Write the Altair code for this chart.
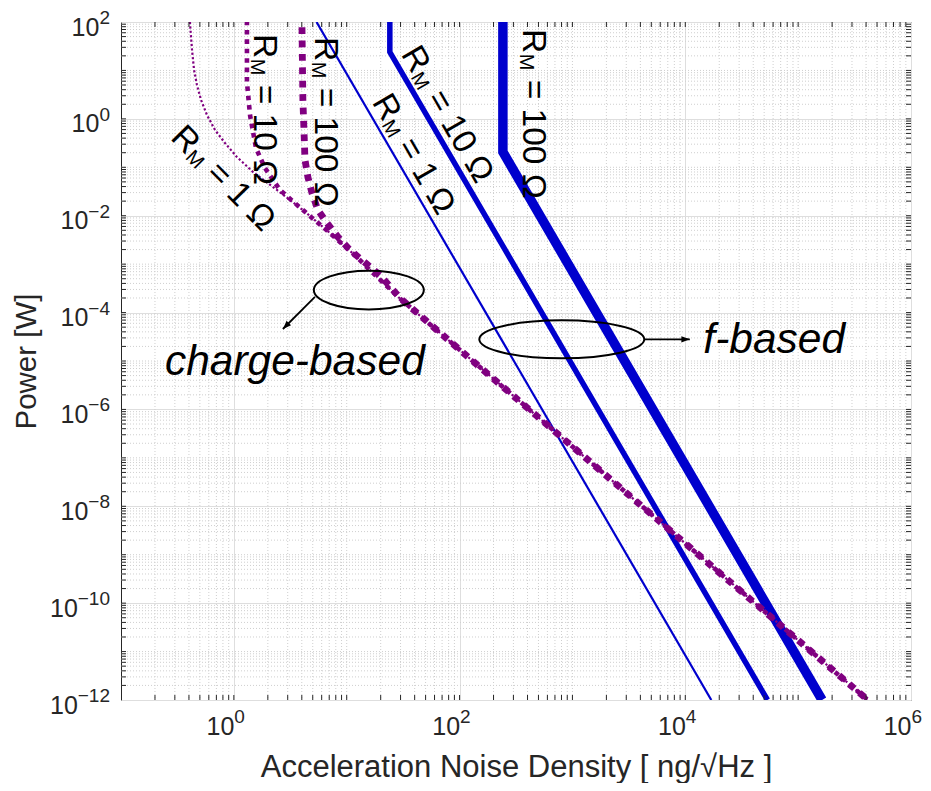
import altair as alt
import pandas as pd

FONT = "Liberation Sans"
INK = "#262626"
BLUE = "#0000CD"
PURPLE = "#800080"
W, H = 790, 678

# ---------------- data ----------------
# f-based (blue) : acceleration noise density [ng/sqrt(Hz)] vs power [W]
f1_a = [5.4, 17000]
f1_p = [100, 1e-12]
f10_a = [24.1, 24.1, 53500]
f10_p = [1000, 24, 1e-12]
f100_a = [242, 242, 163000]
f100_p = [1000, 0.207, 1e-12]

# charge-based (purple)
c1_a = [0.405, 0.408, 0.426, 0.444, 0.471, 0.512, 0.578, 0.681, 0.834, 1.064, 1.476,
        2.41, 4.09, 7.10, 12.3, 16.0, 30, 100, 1000, 1e4, 1e5, 4.14e5]
c1_p = [1000, 100, 26.4, 10.2, 5.0, 2.45, 1.20, 0.589, 0.318, 0.163, 0.080,
        0.034, 0.0131, 0.0044, 0.0014, 7.6e-4, 1.9e-4, 1.71e-5, 1.71e-7, 1.71e-9,
        1.71e-11, 1e-12]
c10_a = [1.306, 1.306, 1.39, 1.57, 1.885, 2.56, 4.09, 7.10, 12.3, 16.0, 30, 100, 1000,
         1e4, 1e5, 4.14e5]
c10_p = [1000, 5.77, 1.20, 0.25, 0.0966, 0.034, 0.0131, 0.0044, 0.0014, 7.6e-4, 1.9e-4,
         1.71e-5, 1.71e-7, 1.71e-9, 1.71e-11, 1e-12]
c100_a = [4.01, 4.01, 4.09, 4.27, 4.53, 4.92, 5.56, 6.68, 8.36, 10.7, 13.6, 19.7, 30,
          100, 1000, 1e4, 1e5, 4.14e5]
c100_p = [1000, 100, 2.45, 0.142, 0.063, 0.0294, 0.0131, 0.00708, 0.00364, 0.00196,
          0.00122, 5.97e-4, 1.95e-4, 1.71e-5, 1.71e-7, 1.71e-9, 1.71e-11, 1e-12]

# label anchors (start of "R_M = ..." text)
lab_a = [0.320, 1.923, 6.68, 464, 37.1, 20.5]
lab_p = [0.589, 56.5, 49.0, 71.7, 29.0, 2.97]
lab_ang = [45.5, 90, 90, 90, 60, 60]
lab_rest = ["= 1 Ω", "= 10 Ω", "= 100 Ω", "= 100 Ω", "= 10 Ω", "= 1 Ω"]

# group annotations
ell_a = [15.7, 805]
ell_p = [2.92e-4, 2.8e-5]
arrow_a0 = [5.23, 4375]
arrow_p0 = [2.1e-4, 2.8e-5]
arrow_a1 = [2.72, 10965]
arrow_p1 = [4.58e-5, 2.8e-5]
arrow_ang = [225, 90]
grp_text = ["charge-based", "f-based"]
grp_a = [3.47, 6.14e4]
grp_p = [5.14e-6, 1.46e-5]

# axes (tick labels are 10^exp)
x_major = [1, 100, 1e4, 1e6]
x_exp = ["0", "2", "4", "6"]
y_major = [1e-12, 1e-10, 1e-8, 1e-6, 1e-4, 1e-2, 1, 100]
y_exp = ["−12", "−10", "−8", "−6", "−4", "−2", "0", "2"]
x_title = "Acceleration Noise Density [ ng/√Hz ]"
y_title = "Power [W]"

x_minor = [k * 10.0 ** n for n in range(-1, 6) for k in range(1, 10)
           if not (k == 1 and n in (0, 2, 4)) and 0.1 < k * 10.0 ** n < 1e6]
y_minor = [k * 10.0 ** n for n in range(-12, 2) for k in range(1, 10)
           if not (k == 1 and n % 2 == 0) and 1e-12 < k * 10.0 ** n < 1e2]
x_ticks = [v for v in x_major if v < 1e6] + x_minor
y_ticks = [v for v in y_major if 1e-12 < v < 100] + y_minor

# ---------------- chart ----------------
XS = alt.Scale(type="log", domain=[0.1, 1e6])
YS = alt.Scale(type="log", domain=[1e-12, 1e2])


def X(field="a"):
    return alt.X(f"{field}:Q", scale=XS)


def Y(field="p"):
    return alt.Y(f"{field}:Q", scale=YS)


def series(a, p):
    return pd.DataFrame({"a": a, "p": p, "i": list(range(len(a)))})


TFS = 31
axes_df = pd.DataFrame({"a": [0.1, 1e6], "p": [1e-12, 1e2]})
axes_layer = alt.Chart(axes_df).mark_point(opacity=0).encode(
    x=alt.X("a:Q", scale=XS, axis=alt.Axis(
        values=x_major, labels=False, title=x_title, titleFontSize=TFS,
        titleX=W / 2, titleY=76, titleAlign="center", titleBaseline="alphabetic")),
    y=alt.Y("p:Q", scale=YS, axis=alt.Axis(
        values=y_major, labels=False, title=y_title, titleFontSize=29.5,
        titleX=-86, titleY=H / 2, titleAlign="center", titleBaseline="alphabetic")),
)

minor_x = alt.Chart(pd.DataFrame({"a": x_minor})).mark_rule(
    color="#cfcfcf", strokeWidth=1, strokeDash=[1, 2]).encode(x=X())
minor_y = alt.Chart(pd.DataFrame({"p": y_minor})).mark_rule(
    color="#cfcfcf", strokeWidth=1, strokeDash=[1, 2]).encode(y=Y())

# tick labels: "10" plus a raised exponent
LFS, EFS = 25, 19


def exp_width(e):
    return sum(0.584 if c == "−" else 0.556 for c in e) * EFS


xl = pd.DataFrame({"a": x_major, "e": x_exp})
xlab_base = alt.Chart(xl).mark_text(
    text="10", font=FONT, fontSize=LFS, color=INK, align="right", baseline="alphabetic",
    dx=0.5).encode(x=X(), y=alt.value(H + 35))
xlab_exp = alt.Chart(xl).mark_text(
    font=FONT, fontSize=EFS, color=INK, align="left", baseline="alphabetic",
    dx=0.5).encode(x=X(), y=alt.value(H + 23), text="e:N")

yl = pd.DataFrame({"p": y_major, "e": y_exp})
yl["w"] = [round(exp_width(e), 1) for e in y_exp]
ylab_exp = alt.Chart(yl).mark_text(
    font=FONT, fontSize=EFS, color=INK, align="right", baseline="alphabetic",
    dy=2).encode(y=Y(), x=alt.value(-11), text="e:N")
ylab_base = []
for w in sorted(set(yl["w"])):
    ylab_base.append(
        alt.Chart(yl[yl["w"] == w]).mark_text(
            text="10", font=FONT, fontSize=LFS, color=INK, align="right",
            baseline="alphabetic", dx=-w, dy=13.5).encode(y=Y(), x=alt.value(-11)))


def line(a, p, color, width, dash=None):
    kw = dict(color=color, strokeWidth=width, clip=True, strokeJoin="miter")
    if dash:
        kw.update(strokeDash=dash, strokeCap="butt")
    return alt.Chart(series(a, p)).mark_line(**kw).encode(
        x=X(), y=Y(), order=alt.Order("i:Q"))


blue = [
    line(f1_a, f1_p, BLUE, 2.2),
    line(f10_a, f10_p, BLUE, 5.5),
    line(f100_a, f100_p, BLUE, 9.5),
]
purple = [
    line(c100_a, c100_p, PURPLE, 6.8, [6.8, 6.6]),
    line(c10_a, c10_p, PURPLE, 4.6, [4.6, 4.8]),
    line(c1_a, c1_p, PURPLE, 2.2, [2.2, 2.2]),
]

FS = 33.5
FM = 20
labels = pd.DataFrame({"a": lab_a, "p": lab_p, "ang": lab_ang, "rest": lab_rest})
lab_enc = dict(x=X(), y=Y(), angle=alt.Angle("ang:Q", scale=None))
lab_R = alt.Chart(labels).mark_text(
    text="R", font=FONT, fontSize=FS, align="left", baseline="alphabetic",
    dx=0, dy=0.358 * FS, color="black").encode(**lab_enc)
lab_M = alt.Chart(labels).mark_text(
    text="M", font=FONT, fontSize=FM, align="left", baseline="alphabetic",
    dx=0.722 * FS + 0.5, dy=0.358 * FS + 3, color="black").encode(**lab_enc)
lab_rest_l = alt.Chart(labels).mark_text(
    font=FONT, fontSize=FS, align="left", baseline="alphabetic",
    dx=0.722 * FS + 0.5 + 0.833 * FM + 0.278 * FS, dy=0.358 * FS,
    color="black").encode(text="rest:N", **lab_enc)

k = 0.5523


def ellipse_path(r):
    return (f"M -1 0 C -1 {-k*r:.4f} {-k} {-r} 0 {-r} C {k} {-r} 1 {-k*r:.4f} 1 0 "
            f"C 1 {k*r:.4f} {k} {r} 0 {r} C {-k} {r} -1 {k*r:.4f} -1 0 Z")


ell1 = alt.Chart(pd.DataFrame({"a": [ell_a[0]], "p": [ell_p[0]]})).mark_point(
    shape=ellipse_path(0.352), size=110 ** 2, filled=False, stroke="black",
    strokeWidth=2, opacity=1).encode(x=X(), y=Y())
ell2 = alt.Chart(pd.DataFrame({"a": [ell_a[1]], "p": [ell_p[1]]})).mark_point(
    shape=ellipse_path(0.23), size=165 ** 2, filled=False, stroke="black",
    strokeWidth=2, opacity=1).encode(x=X(), y=Y())

arr_df = pd.DataFrame({
    "a": arrow_a0 + arrow_a1, "p": arrow_p0 + arrow_p1,
    "id": [0, 1, 0, 1], "i": [0, 0, 1, 1]})
shafts = alt.Chart(arr_df).mark_line(color="black", strokeWidth=1.8).encode(
    x=X(), y=Y(), detail="id:N", order=alt.Order("i:Q"))
heads = alt.Chart(pd.DataFrame({"a": arrow_a1, "p": arrow_p1, "ang": arrow_ang})).mark_point(
    shape="M 0 0 L 0.8 2.1 L -0.8 2.1 Z", size=64, filled=True, color="black",
    opacity=1).encode(x=X(), y=Y(), angle=alt.Angle("ang:Q", scale=None))

grp = alt.Chart(pd.DataFrame({"a": grp_a, "p": grp_p, "t": grp_text})).mark_text(
    font=FONT, fontSize=42.5, fontStyle="italic", align="center", baseline="alphabetic",
    color="black").encode(x=X(), y=Y(), text="t:N")

TL = 5
tick_style = dict(color=INK, strokeWidth=1)
xt = pd.DataFrame({"a": x_ticks})
yt = pd.DataFrame({"p": y_ticks})
ticks = [
    alt.Chart(xt).mark_rule(**tick_style).encode(x=X(), y=alt.value(H), y2=alt.value(H - TL)),
    alt.Chart(xt).mark_rule(**tick_style).encode(x=X(), y=alt.value(0), y2=alt.value(TL)),
    alt.Chart(yt).mark_rule(**tick_style).encode(y=Y(), x=alt.value(0), x2=alt.value(TL)),
    alt.Chart(yt).mark_rule(**tick_style).encode(y=Y(), x=alt.value(W), x2=alt.value(W - TL)),
]

chart = alt.layer(
    axes_layer, minor_x, minor_y, *blue, *purple, ell1, ell2, shafts, heads, grp,
    lab_R, lab_M, lab_rest_l, *ticks, xlab_base, xlab_exp, ylab_exp, *ylab_base
).properties(
    width=W, height=H,
    autosize=alt.AutoSizeParams(type="none"),
    padding={"left": 113, "top": 14, "right": 12, "bottom": 83},
    background="white",
).configure_view(
    stroke=INK, strokeWidth=1
).configure_axis(
    ticks=False, domain=False, grid=True, gridColor="#dedede", gridWidth=1,
    titleFont=FONT, titleFontWeight="normal", titleColor=INK,
)

chart.save("out.html", embed_options={"renderer": "svg", "actions": False})
